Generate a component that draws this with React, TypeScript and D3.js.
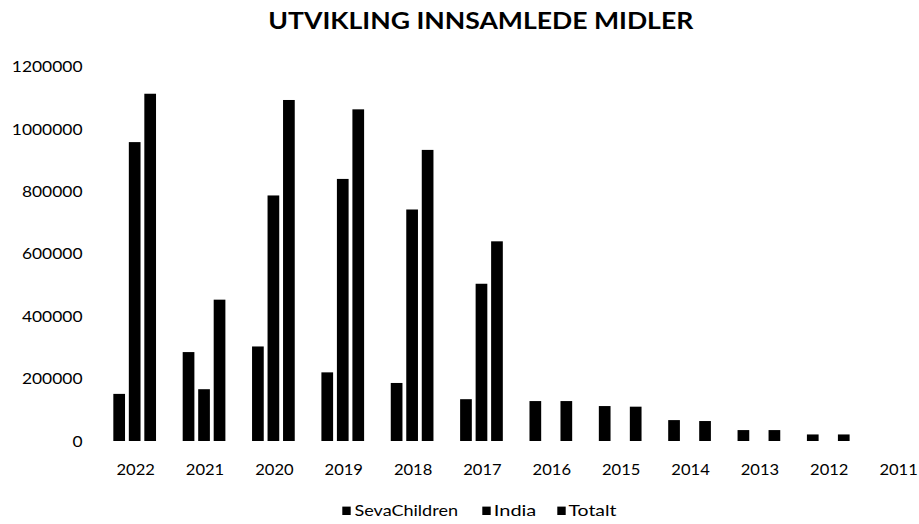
import React from "react";
import * as d3 from "d3";

const years = ["2022", "2021", "2020", "2019", "2018", "2017", "2016", "2015", "2014", "2013", "2012", "2011"];
const seriesNames = ["SevaChildren", "India", "Totalt"];
const sevaChildren = [151000, 285000, 303000, 220000, 186000, 134000, 128000, 112000, 67000, 35000, 21000, 0];
const india = [958000, 166000, 787000, 840000, 742000, 504000, 0, 0, 0, 0, 0, 0];
const totalt = [1113000, 453000, 1093000, 1063000, 933000, 640000, 128000, 110000, 64000, 35000, 21000, 0];
const yTicks = [0, 200000, 400000, 600000, 800000, 1000000, 1200000];
const title = "UTVIKLING INNSAMLEDE MIDLER";

const W = 919;
const H = 524;
const FONT = "Lato, 'Open Sans', sans-serif";

export default function App() {
  const seriesValues = [sevaChildren, india, totalt];
  const x = d3.scaleBand<string>().domain(years).range([100, 932.3]).paddingInner(0).paddingOuter(0);
  const groupW = 42.7;
  const xi = d3
    .scaleBand<string>()
    .domain(seriesNames)
    .range([-groupW / 2, groupW / 2])
    .paddingInner(0.245)
    .paddingOuter(0);
  const y = d3.scaleLinear().domain([0, 1200000]).range([441, 66.6]);

  const legendItems = [
    { name: "SevaChildren", sq: 342.3, tx: 355, tl: 103.5 },
    { name: "India", sq: 482.3, tx: 494.3, tl: 42.5 },
    { name: "Totalt", sq: 557.3, tx: 569, tl: 48 },
  ];

  return (
    <svg
      width={W}
      height={H}
      style={{ position: "absolute", left: 0, top: 0, overflow: "hidden", background: "#fff" }}
      fontFamily={FONT}
    >
      <rect x={0} y={0} width={W} height={H} fill="#fff" />
      <text
        x={268.3}
        y={28.5}
        fontSize={22.5}
        fontWeight={700}
        fill="#000"
        textLength={425}
        lengthAdjust="spacingAndGlyphs"
      >
        {title}
      </text>

      {yTicks.map((t) => {
        const s = String(t);
        return (
          <text
            key={t}
            x={82.5}
            y={y(t) + 5.6}
            fontSize={15.3}
            textAnchor="end"
            fill="#000"
            textLength={s.length * 10.1}
            lengthAdjust="spacingAndGlyphs"
          >
            {s}
          </text>
        );
      })}

      {years.map((yr, i) => (
        <g key={yr}>
          {seriesNames.map((sn, j) => {
            const v = seriesValues[j][i];
            if (!v) return null;
            const bx = (x(yr) as number) + x.bandwidth() / 2 + (xi(sn) as number);
            return (
              <rect key={sn} x={bx} y={y(v)} width={xi.bandwidth()} height={y(0) - y(v)} fill="#000" />
            );
          })}
          <text
            x={(x(yr) as number) + x.bandwidth() / 2 + 1}
            y={475.3}
            fontSize={15.3}
            textAnchor="middle"
            fill="#000"
            textLength={38.4}
            lengthAdjust="spacingAndGlyphs"
          >
            {yr}
          </text>
        </g>
      ))}

      {legendItems.map((it) => (
        <g key={it.name}>
          <rect x={it.sq} y={506.6} width={8.4} height={8.4} fill="#000" />
          <text
            x={it.tx - 0.5}
            y={515.7}
            fontSize={15.3}
            fill="#000"
            textLength={it.tl}
            lengthAdjust="spacingAndGlyphs"
          >
            {it.name}
          </text>
        </g>
      ))}
    </svg>
  );
}
